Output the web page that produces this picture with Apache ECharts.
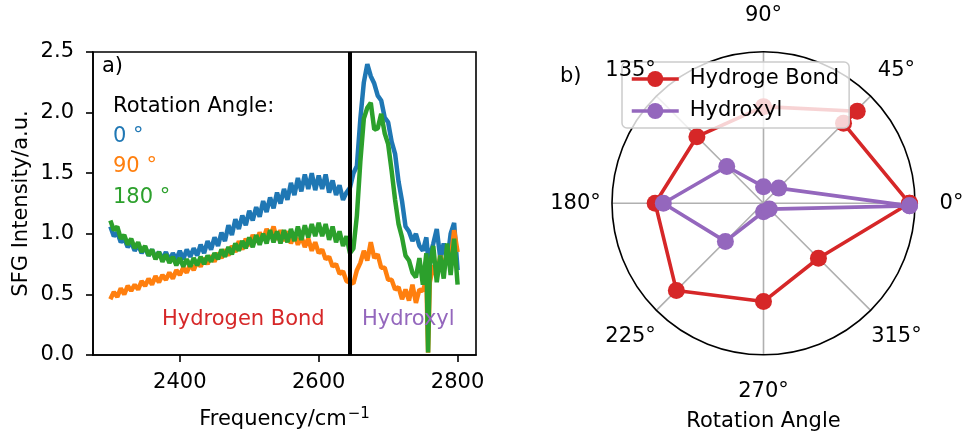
<!DOCTYPE html>
<html><head><meta charset="utf-8">
<script src="https://cdn.jsdelivr.net/npm/echarts@6/dist/echarts.min.js"></script>
<style>html,body{margin:0;padding:0;background:#fff}#c{width:966px;height:439px}</style>
</head><body><div id="c"></div>
<script>
// ---------- data: panel a) SFG spectra ----------
const freq = [
 2300,2305,2310,2315,2320,2325,2330,2335,2340,2345,
 2350,2355,2360,2365,2370,2375,2380,2385,2390,2395,
 2400,2405,2410,2415,2420,2425,2430,2435,2440,2445,
 2450,2455,2460,2465,2470,2475,2480,2485,2490,2495,
 2500,2505,2510,2515,2520,2525,2530,2535,2540,2545,
 2550,2555,2560,2565,2570,2575,2580,2585,2590,2595,
 2600,2605,2610,2615,2620,2625,2630,2635,2640,2645,
 2650,2655,2660,2665,2670,2675,2680,2685,2690,2695,
 2700,2705,2710,2715,2720,2725,2730,2735,2740,2745,
 2750,2755,2757.5,2760,2765,2770,2775,2780,2785,2790,2795,
 2800];
const blue0 = [
 1.06,0.98,1.01,0.93,0.96,0.89,0.93,0.86,0.91,0.84,
 0.89,0.82,0.87,0.80,0.85,0.79,0.85,0.78,0.84,0.79,
 0.86,0.79,0.87,0.81,0.88,0.82,0.91,0.84,0.94,0.87,
 0.97,0.90,1.01,0.94,1.07,0.99,1.12,1.04,1.15,1.07,
 1.19,1.11,1.22,1.14,1.27,1.18,1.30,1.21,1.34,1.25,
 1.37,1.28,1.42,1.32,1.46,1.35,1.49,1.37,1.50,1.36,
 1.48,1.37,1.49,1.34,1.44,1.32,1.40,1.28,1.34,1.38,
 1.50,1.56,1.95,2.25,2.40,2.30,2.24,2.14,2.10,1.96,
 1.92,1.76,1.66,1.43,1.27,1.06,1.02,0.94,1.00,0.90,
 0.86,0.97,0.80,0.82,0.92,1.04,0.80,0.92,0.77,1.00,1.09,
 0.70];
const orange90 = [
 0.46,0.52,0.48,0.55,0.50,0.57,0.53,0.58,0.54,0.61,
 0.57,0.63,0.58,0.65,0.60,0.66,0.62,0.68,0.63,0.70,
 0.66,0.72,0.68,0.75,0.70,0.77,0.73,0.80,0.75,0.82,
 0.77,0.84,0.80,0.87,0.82,0.90,0.85,0.94,0.87,0.96,
 0.90,0.99,0.93,1.01,0.95,1.04,0.97,1.06,0.95,1.03,
 0.94,1.02,0.92,1.00,0.91,0.98,0.89,0.96,0.86,0.93,
 0.84,0.87,0.79,0.81,0.73,0.75,0.67,0.69,0.61,0.60,
 0.59,0.70,0.76,0.86,0.78,0.93,0.80,0.83,0.72,0.72,
 0.62,0.62,0.54,0.56,0.46,0.54,0.45,0.58,0.43,0.54,
 0.53,0.62,0.02,0.60,0.74,0.64,0.82,0.70,0.87,0.78,1.03,
 0.85];
const green180 = [
 1.11,1.03,1.06,0.96,0.99,0.91,0.96,0.88,0.93,0.85,
 0.90,0.82,0.87,0.79,0.85,0.77,0.83,0.76,0.81,0.74,
 0.80,0.73,0.79,0.73,0.80,0.74,0.81,0.75,0.82,0.77,
 0.84,0.79,0.87,0.81,0.89,0.83,0.92,0.86,0.94,0.88,
 0.97,0.89,0.99,0.91,1.00,0.92,1.03,0.93,1.02,0.92,
 1.03,0.93,1.04,0.94,1.06,0.95,1.07,0.97,1.08,0.98,
 1.09,0.98,1.08,0.95,1.06,0.93,1.02,0.90,0.98,0.84,
 0.88,1.15,1.60,1.95,2.04,2.08,1.86,1.87,1.99,1.83,
 1.74,1.52,1.28,1.08,0.97,0.82,0.78,0.68,0.64,0.80,
 0.58,0.84,0.02,0.74,0.90,0.60,0.82,0.63,0.92,0.66,0.96,
 0.58];
const xTicks = [2400, 2600, 2800];
const yTicks = [0, 0.5, 1.0, 1.5, 2.0, 2.5];
const dividerFreq = 2645;

// ---------- data: panel b) polar ----------
const angleTicks = [0, 45, 90, 135, 180, 225, 270, 315];
const hbAngle = [0, 45, 44.5, 90, 135, 180, 225, 270, 315, 0];
const hbR     = [1.0, 0.775, 0.90, 0.662, 0.645, 0.742, 0.844, 0.673, 0.532, 1.0];
const ohAngle = [359, 45, 90, 135, 180, 225, 270, 315, 359];
const ohR     = [1.0, 0.147, 0.114, 0.356, 0.686, 0.369, 0.058, 0.056, 1.0];

const FONT = '"DejaVu Sans"';
const FS = 21;
const C = {blue:'#1f77b4', orange:'#ff7f0e', green:'#2ca02c', red:'#d62728', purple:'#9467bd'};

const chart = echarts.init(document.getElementById('c'), null, {renderer:'canvas'});

const PC = [763.5, 203.3], PR = 151.5, LABR = 188;

function txt(text, x, y, fill, align, valign, size) {
  return {type:'text', x:0, y:0, silent:true, z:20,
    style:{text:text, x:x, y:y, fill:fill||'#000', font:(size||FS)+'px '+FONT,
      textAlign:align||'left', align:align||'left',
      textVerticalAlign:valign||'middle', verticalAlign:valign||'middle'}};
}

const graphics = [
  txt('a)', 102, 67),
  txt('Rotation Angle:', 113, 107),
  txt('0 °', 113, 137, C.blue),
  txt('90 °', 113, 167, C.orange),
  txt('180 °', 113, 198, C.green),
  txt('Hydrogen Bond', 162, 320, C.red),
  txt('Hydroxyl', 362, 320, C.purple),
  txt('b)', 560, 77),
  txt('Rotation Angle', PC[0], 422, '#000', 'center'),
];
angleTicks.forEach(a => {
  const t = a * Math.PI / 180;
  graphics.push(txt(a + '°', PC[0] + LABR * Math.cos(t), PC[1] - LABR * Math.sin(t), '#000', 'center', 'middle'));
});

const mk = (vals) => freq.map((f, i) => [f, vals[i]]);

const option = {
  animation: false,
  textStyle: {fontFamily: FONT},
  grid: {left: 93, top: 52, width: 383, height: 303, show: true, borderColor: '#000', borderWidth: 1.6, backgroundColor: 'transparent'},
  xAxis: {
    type: 'value', min: 2275, max: 2826.5,
    name: 'Frequency/cm{s|−1}', nameLocation: 'middle', nameGap: 52,
    nameTextStyle: {fontFamily: FONT, fontSize: FS, color: '#000', rich: {s: {fontFamily: FONT, fontSize: 15, color: '#000', padding: [0, 0, 11, 1]}}},
    axisLine: {show: true, lineStyle: {color: '#000', width: 1.6}},
    axisTick: {show: true, inside: false, length: 7, lineStyle: {color: '#000', width: 1.6}, customValues: xTicks},
    axisLabel: {show: true, margin: 17, color: '#000', fontFamily: FONT, fontSize: FS, customValues: xTicks,
      formatter: v => String(v)},
    splitLine: {show: false}
  },
  yAxis: {
    type: 'value', min: 0, max: 2.5, interval: 0.5,
    name: 'SFG Intensity/a.u.', nameLocation: 'middle', nameGap: 61, nameRotate: 90,
    nameTextStyle: {fontFamily: FONT, fontSize: FS, color: '#000'},
    axisLine: {show: true, lineStyle: {color: '#000', width: 1.6}},
    axisTick: {show: true, inside: false, length: 7, lineStyle: {color: '#000', width: 1.6}, customValues: yTicks},
    axisLabel: {show: true, margin: 19, color: '#000', fontFamily: FONT, fontSize: FS,
      customValues: yTicks, formatter: v => Number(v).toFixed(1)},
    splitLine: {show: false}
  },
  polar: {center: PC, radius: PR},
  angleAxis: {
    type: 'value', min: 0, max: 360, interval: 45, startAngle: 0, clockwise: false,
    axisLine: {show: true, lineStyle: {color: '#000', width: 1.6}},
    axisTick: {show: false}, axisLabel: {show: false},
    splitLine: {show: true, lineStyle: {color: '#b0b0b0', width: 1.6}}
  },
  radiusAxis: {
    type: 'value', min: 0, max: 1.0375,
    axisLine: {show: false}, axisTick: {show: false}, axisLabel: {show: false},
    splitLine: {show: false}
  },
  legend: {
    data: ['Hydroge Bond', 'Hydroxyl'], orient: 'vertical', left: 622, top: 62,
    padding: [5, 10, 5, 8], itemWidth: 47, itemHeight: 20, itemGap: 8,
    backgroundColor: 'rgba(255,255,255,0.8)', borderColor: '#cccccc', borderWidth: 1.5, borderRadius: 5,
    lineStyle: {width: 3.5},
    textStyle: {fontFamily: FONT, fontSize: FS, color: '#000', padding: [0, 0, 0, 6], lineHeight: 24},
    z: 10
  },
  graphic: {elements: graphics},
  series: [
    {name: '0°', type: 'line', data: mk(blue0), showSymbol: false, symbol: 'none',
      lineStyle: {color: C.blue, width: 4.5}, itemStyle: {color: C.blue}, z: 2},
    {name: '90°', type: 'line', data: mk(orange90), showSymbol: false, symbol: 'none',
      lineStyle: {color: C.orange, width: 4.5}, itemStyle: {color: C.orange}, z: 2},
    {name: '180°', type: 'line', data: mk(green180), showSymbol: false, symbol: 'none',
      lineStyle: {color: C.green, width: 4.5}, itemStyle: {color: C.green}, z: 2,
      markLine: {silent: true, symbol: 'none', label: {show: false},
        lineStyle: {color: '#000', width: 4, type: 'solid'},
        data: [{xAxis: dividerFreq}]}},
    {name: 'Hydroge Bond', type: 'line', coordinateSystem: 'polar',
      data: hbR.map((r, i) => [r, hbAngle[i]]), symbol: 'circle', symbolSize: 17, showSymbol: true,
      lineStyle: {color: C.red, width: 3.6}, itemStyle: {color: C.red}, z: 2},
    {name: 'Hydroxyl', type: 'line', coordinateSystem: 'polar',
      data: ohR.map((r, i) => [r, ohAngle[i]]), symbol: 'circle', symbolSize: 17, showSymbol: true,
      lineStyle: {color: C.purple, width: 3.6}, itemStyle: {color: C.purple}, z: 2}
  ]
};
chart.setOption(option);
</script>
</body></html>
